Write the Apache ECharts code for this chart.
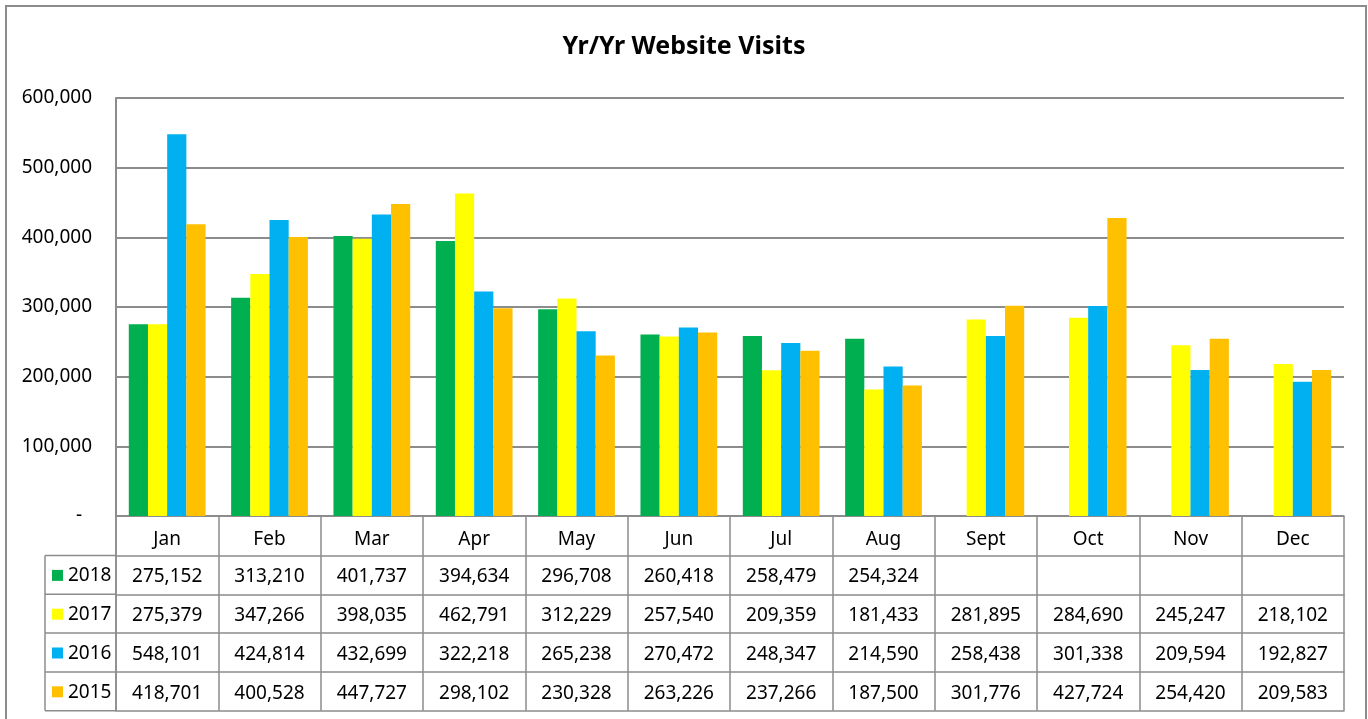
<!DOCTYPE html>
<html>
<head>
<meta charset="utf-8">
<script src="https://cdn.jsdelivr.net/npm/echarts@6/dist/echarts.min.js"></script>
<style>
  html, body { margin: 0; padding: 0; background: #fff; }
  #chart { width: 1368px; height: 719px; }
</style>
</head>
<body>
<div id="chart"></div>
<script>
const months = ['Jan', 'Feb', 'Mar', 'Apr', 'May', 'Jun', 'Jul', 'Aug', 'Sept', 'Oct', 'Nov', 'Dec'];
const years = ['2018', '2017', '2016', '2015'];
const colors = ['#00B050', '#FFFF00', '#00B0F0', '#FFC000'];
const v2018 = [275152, 313210, 401737, 394634, 296708, 260418, 258479, 254324, null, null, null, null];
const v2017 = [275379, 347266, 398035, 462791, 312229, 257540, 209359, 181433, 281895, 284690, 245247, 218102];
const v2016 = [548101, 424814, 432699, 322218, 265238, 270472, 248347, 214590, 258438, 301338, 209594, 192827];
const v2015 = [418701, 400528, 447727, 298102, 230328, 263226, 237266, 187500, 301776, 427724, 254420, 209583];
const rows = [v2018, v2017, v2016, v2015];

const font = '"Noto Sans", "Open Sans", sans-serif';
const lineCol = '#8c8c8c';
const gridLeft = 116, gridRight = 24, gridTop = 98, gridBottom = 203;
const headH = 39.5, rowH = 38.8;
const axisY = 719 - gridBottom;
const tableLeft = 45;

function fmt(v) {
  if (v === null || v === undefined) return '';
  return v.toLocaleString('en-US');
}

const container = document.getElementById('chart');
const myChart = echarts.init(container, null, { renderer: 'canvas' });

// x axes: the month header plus one per table row, and a closing line
const xAxes = [{
  type: 'category',
  data: months,
  gridIndex: 0,
  position: 'bottom',
  axisLine: { show: true, lineStyle: { color: lineCol, width: 1.5 } },
  axisTick: { show: true, length: headH, lineStyle: { color: lineCol, width: 1.5 } },
  axisLabel: { interval: 0, margin: 4, color: '#000', fontSize: 19, fontFamily: font, lineHeight: headH }
}];
rows.forEach((vals, k) => {
  xAxes.push({
    type: 'category',
    data: months,
    gridIndex: 0,
    position: 'bottom',
    offset: headH + rowH * k,
    axisLine: { show: true, lineStyle: { color: lineCol, width: 1.5 } },
    axisTick: { show: true, length: rowH, lineStyle: { color: lineCol, width: 1.5 } },
    axisLabel: {
      interval: 0, margin: 2, color: '#000', fontSize: 19, fontFamily: font, lineHeight: rowH,
      formatter: (val, i) => fmt(vals[i])
    }
  });
});
xAxes.push({
  type: 'category',
  data: months,
  gridIndex: 0,
  position: 'bottom',
  offset: headH + rowH * rows.length,
  axisLine: { show: true, lineStyle: { color: lineCol, width: 1.5 } },
  axisTick: { show: false },
  axisLabel: { show: false }
});

// left column of the table: legend keys and years
const graphics = [{
  type: 'rect',
  shape: { x: 6, y: 6, width: 1360, height: 730 },
  style: { fill: 'none', stroke: lineCol, lineWidth: 2 },
  silent: true
}];
const tTop = axisY + headH;
graphics.push({
  type: 'line',
  shape: { x1: tableLeft, y1: tTop, x2: tableLeft, y2: tTop + rowH * rows.length },
  style: { stroke: lineCol, lineWidth: 1.5 }
});
for (let k = 0; k <= rows.length; k++) {
  graphics.push({
    type: 'line',
    shape: { x1: tableLeft, y1: tTop + rowH * k, x2: gridLeft, y2: tTop + rowH * k },
    style: { stroke: lineCol, lineWidth: 1.5 }
  });
}
graphics.push({
  type: 'line',
  shape: { x1: gridLeft, y1: axisY, x2: gridLeft, y2: tTop + rowH * rows.length },
  style: { stroke: lineCol, lineWidth: 1.5 }
});
years.forEach((y, k) => {
  const cy = tTop + rowH * k + rowH / 2 + 1;
  graphics.push({
    type: 'rect',
    shape: { x: 52, y: cy - 6, width: 11, height: 11 },
    style: { fill: colors[k] }
  });
  graphics.push({
    type: 'text',
    x: 68, y: cy,
    style: { text: y, fill: '#000', font: '19px ' + font, textVerticalAlign: 'middle' }
  });
});

const option = {
  animation: false,
  backgroundColor: '#fff',
  title: {
    text: 'Yr/Yr Website Visits',
    left: 'center',
    top: 29,
    textStyle: { fontSize: 25, fontWeight: 'bold', color: '#000', fontFamily: font }
  },
  grid: { left: gridLeft, right: gridRight, top: gridTop, bottom: gridBottom, containLabel: false },
  xAxis: xAxes,
  yAxis: {
    type: 'value',
    min: 0,
    max: 600000,
    interval: 100000,
    axisLine: { show: true, lineStyle: { color: lineCol, width: 2 } },
    axisTick: { show: false },
    splitLine: { lineStyle: { color: lineCol, width: 2 } },
    axisLabel: {
      margin: 24,
      color: '#000',
      fontSize: 19,
      fontFamily: font,
      formatter: v => (v === 0 ? '{d|-}' : fmt(v)),
      rich: { d: { fontSize: 19, fontFamily: font, color: '#000', padding: [0, 10, 0, 0] } }
    }
  },
  series: rows.map((vals, k) => ({
    name: years[k],
    type: 'bar',
    data: vals,
    barGap: 0,
    barCategoryGap: '25%',
    itemStyle: { color: colors[k] }
  })),
  graphic: graphics
};
myChart.setOption(option);
</script>
</body>
</html>
